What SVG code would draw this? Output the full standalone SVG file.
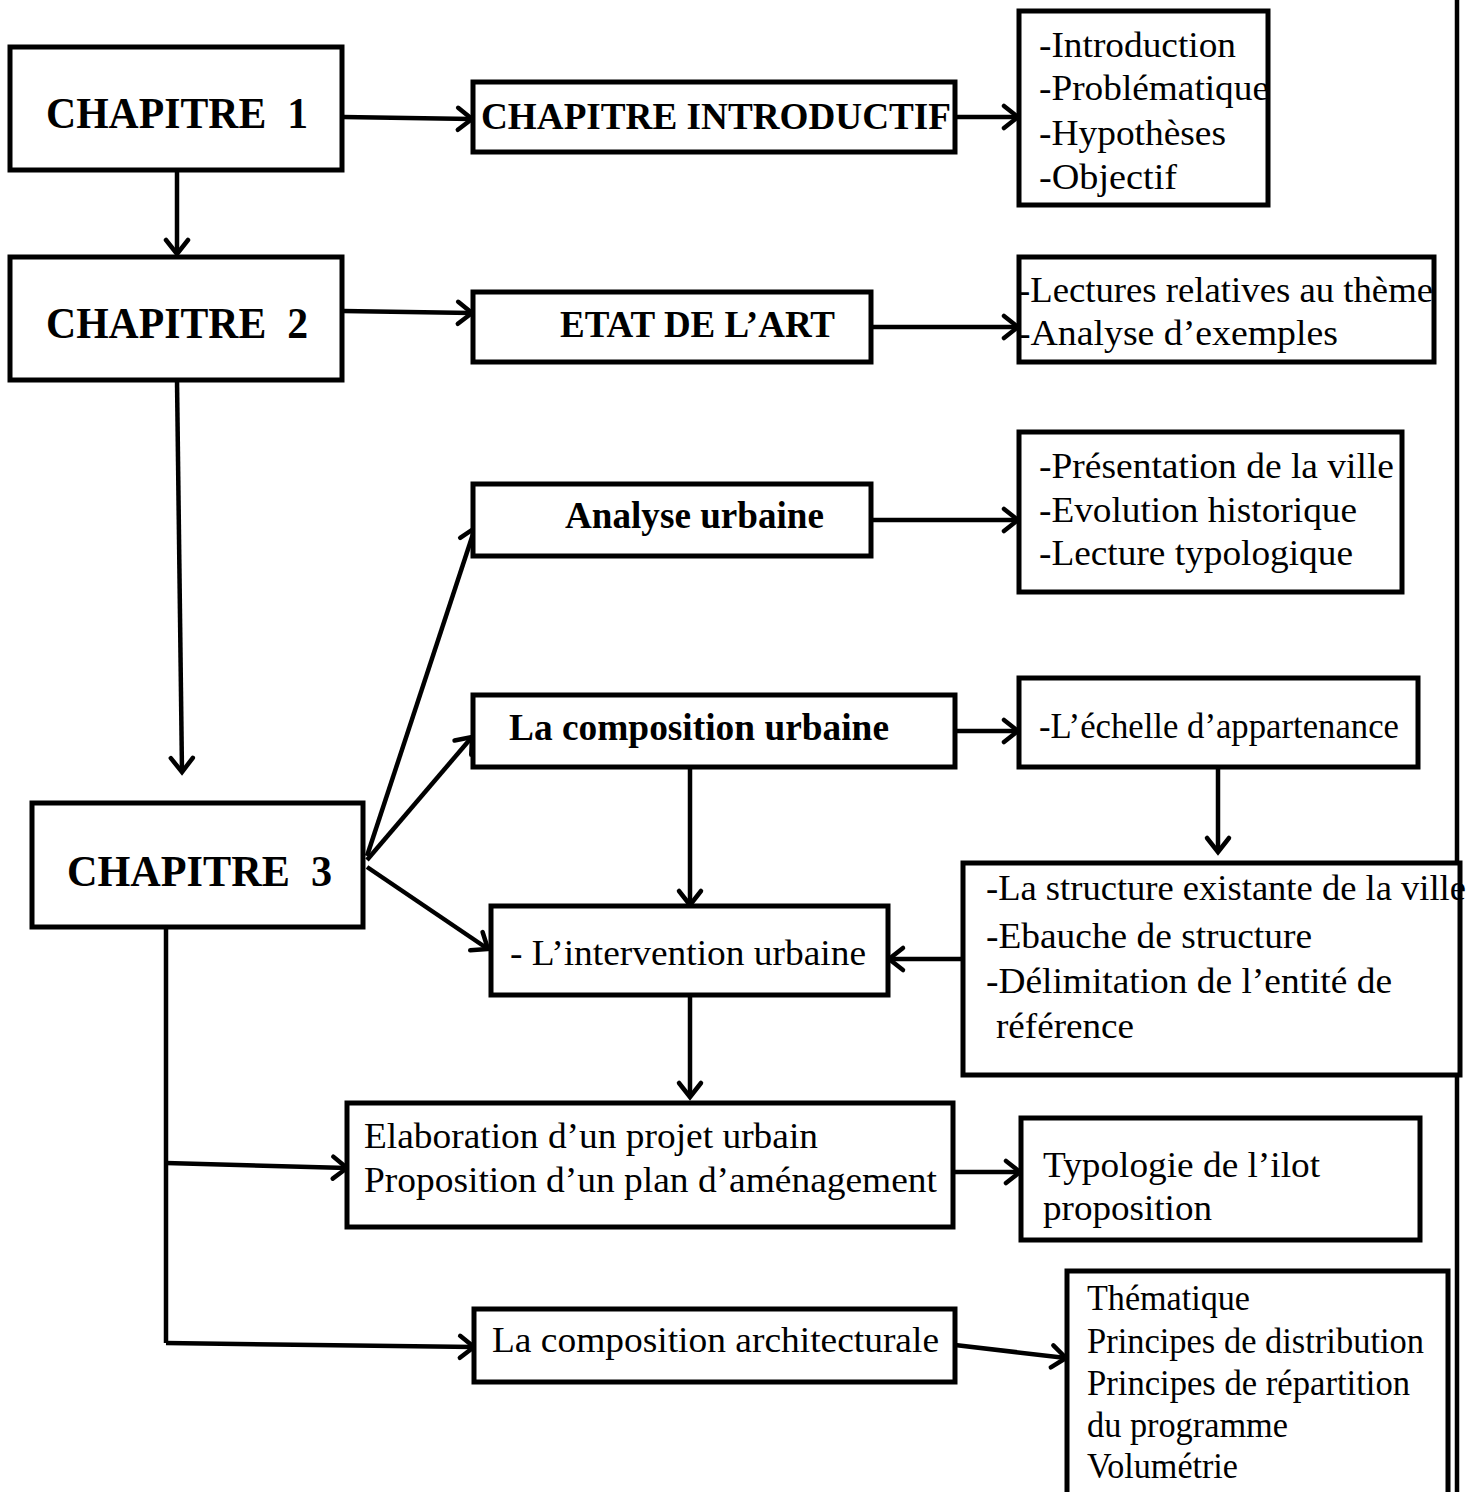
<svg xmlns="http://www.w3.org/2000/svg" width="1481" height="1492" viewBox="0 0 1481 1492">
<defs>
<style>
.box{fill:#fff;stroke:#000;stroke-width:5}
.t{font-family:"Liberation Serif","Times New Roman",serif;font-size:36px;fill:#000}
.b{font-weight:bold;font-size:37px}
.ch{font-family:"Liberation Serif","Times New Roman",serif;font-size:44px;font-weight:bold;fill:#000}
.c{fill:none;stroke:#000;stroke-width:4.5}
</style>
<marker id="arr" markerUnits="userSpaceOnUse" markerWidth="40" markerHeight="40" viewBox="-20 -20 40 40" refX="0" refY="0" orient="auto" overflow="visible">
<path d="M-14,-11 L0,0 L-14,11" fill="none" stroke="#000" stroke-width="4.5" stroke-linejoin="miter" stroke-linecap="round"/>
</marker>
</defs>
<rect width="1481" height="1492" fill="#fff"/>
<g id="connectors">
<path class="c" d="M343,117 L472,119" marker-end="url(#arr)"/>
<path class="c" d="M955,117 L1018,117" marker-end="url(#arr)"/>
<path class="c" d="M177,170 L177,254" marker-end="url(#arr)"/>
<path class="c" d="M343,311 L472,313" marker-end="url(#arr)"/>
<path class="c" d="M871,327 L1018,327" marker-end="url(#arr)"/>
<path class="c" d="M177,380 L182,772" marker-end="url(#arr)"/>
<path class="c" d="M367,856 L475,528" marker-end="url(#arr)"/>
<path class="c" d="M367,860 L472,737" marker-end="url(#arr)"/>
<path class="c" d="M367,867 L488,949" marker-end="url(#arr)"/>
<path class="c" d="M871,520 L1018,520" marker-end="url(#arr)"/>
<path class="c" d="M955,731 L1018,731" marker-end="url(#arr)"/>
<path class="c" d="M690,767 L690,905" marker-end="url(#arr)"/>
<path class="c" d="M1218,767 L1218,852" marker-end="url(#arr)"/>
<path class="c" d="M970,959 L889,959" marker-end="url(#arr)"/>
<path class="c" d="M690,995 L690,1097" marker-end="url(#arr)"/>
<path class="c" d="M166,927 L166,1343"/>
<path class="c" d="M166,1163 L347,1168" marker-end="url(#arr)"/>
<path class="c" d="M166,1343 L474,1347" marker-end="url(#arr)"/>
<path class="c" d="M955,1172 L1020,1172" marker-end="url(#arr)"/>
<path class="c" d="M955,1345 L1066,1358" marker-end="url(#arr)"/>
<path class="c" d="M1457,0 L1457,1492"/>
</g>
<g id="chapitre1"><rect class="box" x="10" y="47" width="332" height="123"/><text class="ch" x="46" y="128" textLength="262" lengthAdjust="spacingAndGlyphs" xml:space="preserve">CHAPITRE  1</text></g>
<g id="chapitre2"><rect class="box" x="10" y="257" width="332" height="123"/><text class="ch" x="46" y="338" textLength="262" lengthAdjust="spacingAndGlyphs" xml:space="preserve">CHAPITRE  2</text></g>
<g id="chapitre3"><rect class="box" x="32" y="803" width="331" height="124"/><text class="ch" x="67" y="886" textLength="265" lengthAdjust="spacingAndGlyphs" xml:space="preserve">CHAPITRE  3</text></g>
<g id="chapitre-introductif"><rect class="box" x="473" y="82" width="482" height="70"/><text class="t b" x="481" y="129" textLength="470" lengthAdjust="spacingAndGlyphs">CHAPITRE INTRODUCTIF</text></g>
<g id="intro-list"><rect class="box" x="1019" y="11" width="249" height="194"/>
<text class="t" x="1039" y="57" textLength="197" lengthAdjust="spacingAndGlyphs">-Introduction</text>
<text class="t" x="1039" y="100" textLength="230" lengthAdjust="spacingAndGlyphs">-Problématique</text>
<text class="t" x="1039" y="145" textLength="187" lengthAdjust="spacingAndGlyphs">-Hypothèses</text>
<text class="t" x="1039" y="189" textLength="138" lengthAdjust="spacingAndGlyphs">-Objectif</text></g>
<g id="etat-art"><rect class="box" x="473" y="292" width="398" height="70"/><text class="t b" x="560" y="337" textLength="275" lengthAdjust="spacingAndGlyphs">ETAT DE L’ART</text></g>
<g id="lectures"><rect class="box" x="1019" y="257" width="415" height="105"/>
<text class="t" x="1018" y="302" textLength="415" lengthAdjust="spacingAndGlyphs">-Lectures relatives au thème</text>
<text class="t" x="1018" y="345" textLength="320" lengthAdjust="spacingAndGlyphs">-Analyse d’exemples</text></g>
<g id="analyse-urbaine"><rect class="box" x="473" y="484" width="398" height="72"/><text class="t b" x="565" y="528" textLength="259" lengthAdjust="spacingAndGlyphs">Analyse urbaine</text></g>
<g id="presentation"><rect class="box" x="1019" y="432" width="383" height="160"/>
<text class="t" x="1039" y="478" textLength="355" lengthAdjust="spacingAndGlyphs">-Présentation de la ville</text>
<text class="t" x="1039" y="522" textLength="318" lengthAdjust="spacingAndGlyphs">-Evolution historique</text>
<text class="t" x="1039" y="565" textLength="314" lengthAdjust="spacingAndGlyphs">-Lecture typologique</text></g>
<g id="composition-urbaine"><rect class="box" x="473" y="695" width="482" height="72"/><text class="t b" x="509" y="740" textLength="380" lengthAdjust="spacingAndGlyphs">La composition urbaine</text></g>
<g id="echelle"><rect class="box" x="1019" y="678" width="399" height="89"/><text class="t" x="1039" y="738" textLength="360" lengthAdjust="spacingAndGlyphs">-L’échelle d’appartenance</text></g>
<g id="intervention"><rect class="box" x="491" y="906" width="397" height="89"/><text class="t" x="510" y="965" textLength="356" lengthAdjust="spacingAndGlyphs">- L’intervention urbaine</text></g>
<g id="structure"><rect class="box" x="963" y="863" width="497" height="212"/>
<text class="t" x="986" y="900" textLength="480" lengthAdjust="spacingAndGlyphs">-La structure existante de la ville</text>
<text class="t" x="986" y="948" textLength="326" lengthAdjust="spacingAndGlyphs">-Ebauche de structure</text>
<text class="t" x="986" y="993" textLength="406" lengthAdjust="spacingAndGlyphs">-Délimitation de l’entité de</text>
<text class="t" x="996" y="1038" textLength="138" lengthAdjust="spacingAndGlyphs">référence</text></g>
<g id="elaboration"><rect class="box" x="347" y="1103" width="606" height="124"/>
<text class="t" x="364" y="1148" textLength="454" lengthAdjust="spacingAndGlyphs">Elaboration d’un projet urbain</text>
<text class="t" x="364" y="1192" textLength="573" lengthAdjust="spacingAndGlyphs">Proposition d’un plan d’aménagement</text></g>
<g id="typologie"><rect class="box" x="1021" y="1118" width="399" height="122"/>
<text class="t" x="1043" y="1177" textLength="277" lengthAdjust="spacingAndGlyphs">Typologie de l’ilot</text>
<text class="t" x="1043" y="1220" textLength="169" lengthAdjust="spacingAndGlyphs">proposition</text></g>
<g id="composition-architecturale"><rect class="box" x="474" y="1309" width="481" height="73"/><text class="t" x="492" y="1352" textLength="447" lengthAdjust="spacingAndGlyphs">La composition architecturale</text></g>
<g id="thematique"><rect class="box" x="1067" y="1271" width="381" height="235"/>
<text class="t" x="1087" y="1310" textLength="163" lengthAdjust="spacingAndGlyphs">Thématique</text>
<text class="t" x="1087" y="1353" textLength="337" lengthAdjust="spacingAndGlyphs">Principes de distribution</text>
<text class="t" x="1087" y="1395" textLength="323" lengthAdjust="spacingAndGlyphs">Principes de répartition</text>
<text class="t" x="1087" y="1437" textLength="201" lengthAdjust="spacingAndGlyphs">du programme</text>
<text class="t" x="1087" y="1478" textLength="151" lengthAdjust="spacingAndGlyphs">Volumétrie</text></g>
</svg>
